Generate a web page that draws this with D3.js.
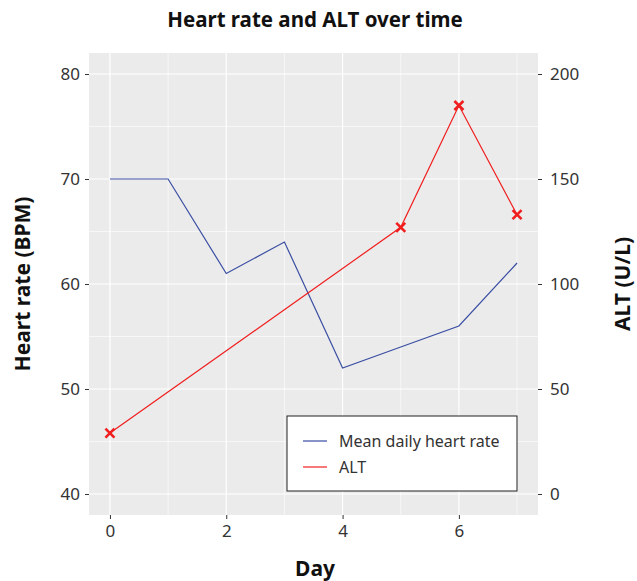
<!DOCTYPE html>
<html>
<head>
<meta charset="utf-8">
<script src="https://cdn.jsdelivr.net/npm/d3@7"></script>
<style>
  body { margin: 0; background: #fff; }
  text { font-family: "Noto Sans", "Open Sans", sans-serif; }
</style>
</head>
<body>
<script>
// data
const hrDays = [0, 1, 2, 3, 4, 5, 6, 7];
const heartRate = [70, 70, 61, 64, 52, 54, 56, 62];
const altDays = [0, 5, 6, 7];
const altValues = [29, 127, 185, 133];
const xTicks = [0, 2, 4, 6];
const hrTicks = [40, 50, 60, 70, 80];
const altTicks = [0, 50, 100, 150, 200];

const width = 637;
const height = 581;
const panel = { left: 89, right: 538, top: 53, bottom: 515 };

const svg = d3.select('body').append('svg').attr('width', width).attr('height', height);

const x = d3.scaleLinear().domain([-0.36, 7.36]).range([panel.left, panel.right]);
const yHr = d3.scaleLinear().domain([38, 82]).range([panel.bottom, panel.top]);
const yAlt = d3.scaleLinear().domain([-10, 210]).range([panel.bottom, panel.top]);

const blue = '#3a4ea3';
const red = '#f01e1e';

svg.append('rect')
  .attr('x', panel.left).attr('y', panel.top)
  .attr('width', panel.right - panel.left).attr('height', panel.bottom - panel.top)
  .attr('fill', '#ebebeb');

const gGrid = svg.append('g');
// minor grid
[1, 3, 5, 7].forEach((d) => {
  gGrid.append('line').attr('x1', x(d)).attr('x2', x(d))
    .attr('y1', panel.top).attr('y2', panel.bottom)
    .attr('stroke', '#fff').attr('stroke-width', 0.6);
});
[45, 55, 65, 75].forEach((d) => {
  gGrid.append('line').attr('y1', yHr(d)).attr('y2', yHr(d))
    .attr('x1', panel.left).attr('x2', panel.right)
    .attr('stroke', '#fff').attr('stroke-width', 0.6);
});
// major grid
xTicks.forEach((d) => {
  gGrid.append('line').attr('x1', x(d)).attr('x2', x(d))
    .attr('y1', panel.top).attr('y2', panel.bottom)
    .attr('stroke', '#fff').attr('stroke-width', 1.2);
});
hrTicks.forEach((d) => {
  gGrid.append('line').attr('y1', yHr(d)).attr('y2', yHr(d))
    .attr('x1', panel.left).attr('x2', panel.right)
    .attr('stroke', '#fff').attr('stroke-width', 1.2);
});

// axes
const styleAxis = (g) => {
  g.select('.domain').remove();
  g.selectAll('.tick line').attr('stroke', '#333').attr('stroke-width', 1);
  g.selectAll('.tick text').attr('fill', '#333').style('font-size', '17px')
    .style('font-family', '"Noto Sans", sans-serif');
};

svg.append('g').attr('transform', `translate(0,${panel.bottom})`)
  .call(d3.axisBottom(x).tickValues(xTicks).tickSize(4).tickPadding(6))
  .call(styleAxis);

svg.append('g').attr('transform', `translate(${panel.left},0)`)
  .call(d3.axisLeft(yHr).tickValues(hrTicks).tickSize(4).tickPadding(5))
  .call(styleAxis);

svg.append('g').attr('transform', `translate(${panel.right},0)`)
  .call(d3.axisRight(yAlt).tickValues(altTicks).tickSize(4).tickPadding(8))
  .call(styleAxis);

// series
const hrLine = d3.line().x((d, i) => x(hrDays[i])).y((d) => yHr(d));
svg.append('path').datum(heartRate)
  .attr('d', hrLine).attr('fill', 'none')
  .attr('stroke', blue).attr('stroke-width', 1.2);

const altLine = d3.line().x((d, i) => x(altDays[i])).y((d) => yAlt(d));
svg.append('path').datum(altValues)
  .attr('d', altLine).attr('fill', 'none')
  .attr('stroke', red).attr('stroke-width', 1.2);

const s = 4.5;
svg.append('g').selectAll('path.mark').data(altValues).join('path')
  .attr('class', 'mark')
  .attr('d', (d, i) => {
    const cx = x(altDays[i]);
    const cy = yAlt(d);
    return `M${cx - s},${cy - s}L${cx + s},${cy + s}M${cx - s},${cy + s}L${cx + s},${cy - s}`;
  })
  .attr('stroke', red).attr('stroke-width', 2.6).attr('fill', 'none');

// legend
const legend = svg.append('g').attr('transform', 'translate(287,416)');
legend.append('rect').attr('width', 230).attr('height', 75)
  .attr('fill', '#fff').attr('stroke', '#222').attr('stroke-width', 1);
[['Mean daily heart rate', blue], ['ALT', red]].forEach(([label, color], i) => {
  const yy = 25 + i * 26;
  legend.append('line').attr('x1', 16).attr('x2', 40).attr('y1', yy).attr('y2', yy)
    .attr('stroke', color).attr('stroke-width', 1.2);
  legend.append('text').attr('x', 52).attr('y', yy).attr('dy', '0.35em')
    .style('font-size', '16px').attr('fill', '#333').text(label);
});

// titles
svg.append('text').attr('x', 315).attr('y', 27).attr('text-anchor', 'middle')
  .style('font-size', '20.5px').style('font-weight', 'bold').attr('fill', '#111')
  .text('Heart rate and ALT over time');

svg.append('text').attr('x', 315).attr('y', 576).attr('text-anchor', 'middle')
  .style('font-size', '21px').style('font-weight', 'bold').attr('fill', '#111')
  .text('Day');

svg.append('text').attr('transform', 'translate(30,284) rotate(-90)').attr('text-anchor', 'middle')
  .style('font-size', '21px').style('font-weight', 'bold').attr('fill', '#111')
  .text('Heart rate (BPM)');

svg.append('text').attr('text-anchor', 'middle')
  .style('font-size', '21px').style('font-weight', 'bold').attr('fill', '#111')
  .attr('transform', 'translate(630,284) rotate(-90)')
  .text('ALT (U/L)');
</script>
</body>
</html>
